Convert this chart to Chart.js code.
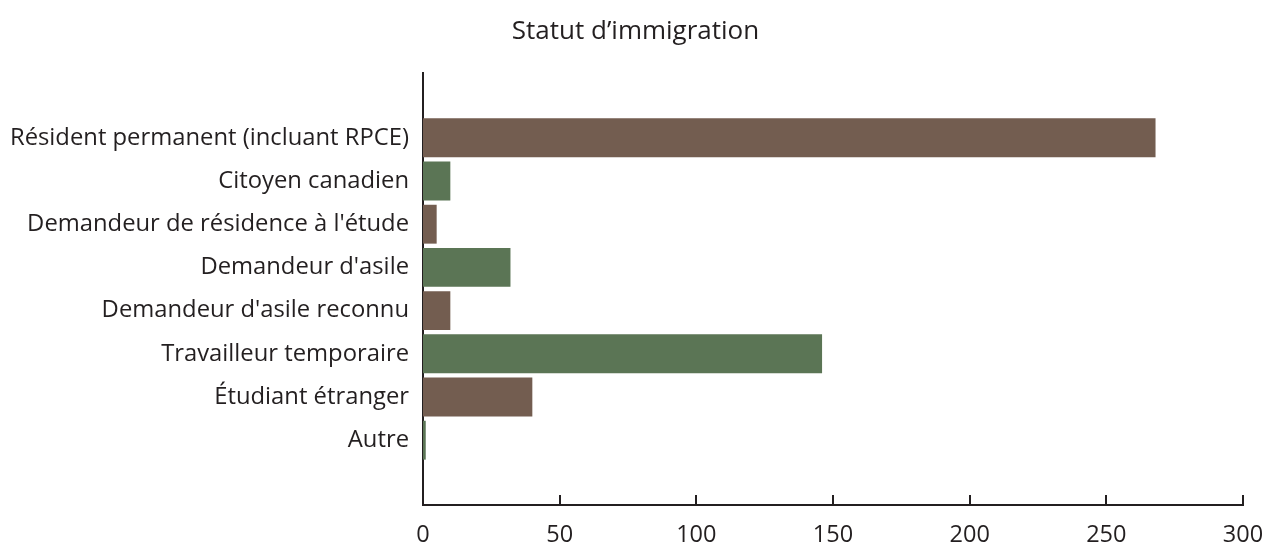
<!DOCTYPE html>
<html>
<head>
<meta charset="utf-8">
<script src="https://cdn.jsdelivr.net/npm/chart.js@4"></script>
<style>
    body { margin: 0; background: #fff; }
    #wrap { width: 1266px; height: 544px; }
</style>
</head>
<body>
<div id="wrap"><canvas id="chart" width="1266" height="544"></canvas></div>
<script>
// Chart data
const titleText = 'Statut d’immigration';
const categories = [
    'Résident permanent (incluant RPCE)',
    'Citoyen canadien',
    "Demandeur de résidence à l'étude",
    "Demandeur d'asile",
    "Demandeur d'asile reconnu",
    'Travailleur temporaire',
    'Étudiant étranger',
    'Autre'
];
const values = [268, 10, 5, 32, 10, 146, 40, 1];
const xTicks = [0, 50, 100, 150, 200, 250, 300];

const brown = '#735d50';
const green = '#5b7555';
const ink = '#231f20';
const fontFamily = '"Open Sans", "Noto Sans", sans-serif';

// empty slot above and below the bars, like the original
const labels = ['', ...categories, ''];
const data = [null, ...values, null];
const barColors = labels.map((l, i) => (i % 2 === 1 ? brown : green));

// tick marks pointing inward (up) on the x axis
const innerTicks = {
    id: 'innerTicks',
    afterDraw(chart) {
        const { ctx, scales: { x }, chartArea } = chart;
        ctx.save();
        ctx.strokeStyle = ink;
        ctx.lineWidth = 2;
        xTicks.forEach(v => {
            const px = Math.round(x.getPixelForValue(v));
            ctx.beginPath();
            ctx.moveTo(px, chartArea.bottom);
            ctx.lineTo(px, chartArea.bottom - 10);
            ctx.stroke();
        });
        ctx.restore();
    }
};

new Chart(document.getElementById('chart').getContext('2d'), {
    type: 'bar',
    data: {
        labels,
        datasets: [{
            data,
            backgroundColor: barColors,
            barPercentage: 0.9,
            categoryPercentage: 1
        }]
    },
    options: {
        indexAxis: 'y',
        responsive: false,
        animation: false,
        layout: { padding: { left: 5, right: 0, top: 0, bottom: 0 } },
        plugins: {
            legend: { display: false },
            tooltip: { enabled: false },
            title: {
                display: true,
                text: titleText,
                color: ink,
                font: { family: fontFamily, size: 26, weight: 'normal', lineHeight: 1.2 },
                padding: { top: 16, bottom: 25.8 }
            }
        },
        scales: {
            x: {
                min: 0,
                max: 300,
                afterBuildTicks: s => { s.ticks = xTicks.map(v => ({ value: v })); },
                afterFit: s => { s.height = 39; s.paddingRight = 23; },
                grid: { display: false, drawTicks: false },
                border: { display: true, color: ink, width: 2 },
                ticks: { color: ink, padding: 16, font: { family: fontFamily, size: 23.5 } }
            },
            y: {
                afterFit: s => { s.width = 418; },
                grid: { display: false, drawTicks: false },
                border: { display: true, color: ink, width: 2 },
                ticks: { color: ink, padding: 14, autoSkip: false, font: { family: fontFamily, size: 23.8 } }
            }
        }
    },
    plugins: [innerTicks]
});
</script>
</body>
</html>
